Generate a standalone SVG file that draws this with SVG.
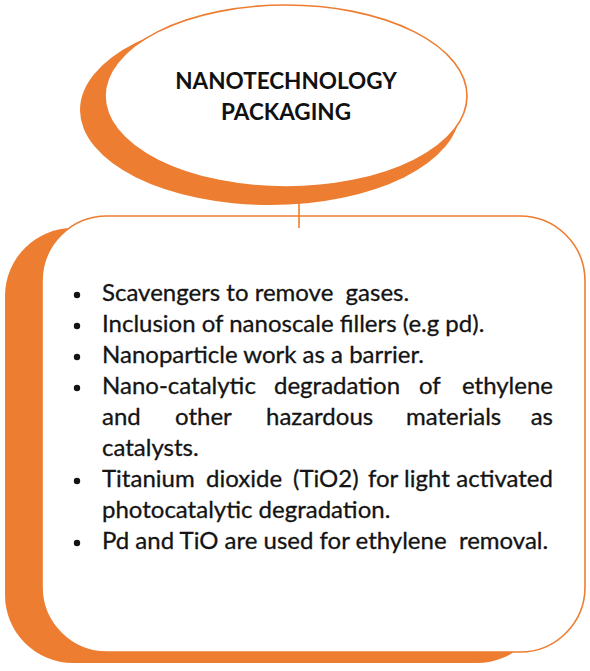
<svg xmlns="http://www.w3.org/2000/svg" width="590" height="671" viewBox="0 0 590 671">
<style>
.shadow{fill:#ED7D31;}
.face{fill:#FFFFFF;stroke:#ED7D31;stroke-width:1.6;}
.title{font-family:Lato,"Liberation Sans",sans-serif;font-weight:bold;font-size:22.5px;fill:#111111;text-anchor:middle;}
.body{font-family:Lato,"Liberation Sans",sans-serif;font-size:24px;fill:#141414;stroke:#141414;stroke-width:0.3;}
.dot{fill:#141414;}
.conn{stroke:#ED7D31;stroke-width:1.6;fill:none;}
</style>
<rect width="590" height="671" fill="#FFFFFF"/>
<g id="box-node">
<rect class="shadow" x="5" y="228" width="540" height="435" rx="68" ry="68"/>
<rect class="face" x="42" y="216" width="543" height="436" rx="65" ry="65"/>
<circle class="dot" cx="77" cy="295" r="3.2"/>
<circle class="dot" cx="77" cy="326" r="3.2"/>
<circle class="dot" cx="77" cy="357" r="3.2"/>
<circle class="dot" cx="77" cy="388" r="3.2"/>
<circle class="dot" cx="77" cy="481" r="3.2"/>
<circle class="dot" cx="77" cy="543" r="3.2"/>
<text class="body" x="102" y="301" xml:space="preserve">Scavengers to remove  gases.</text>
<text class="body" x="102" y="332">Inclusion of nanoscale fillers (e.g pd).</text>
<text class="body" x="102" y="363">Nanoparticle work as a barrier.</text>
<text class="body" y="394"><tspan x="102">Nano-catalytic</tspan><tspan x="274">degradation</tspan><tspan x="419">of</tspan><tspan x="553" text-anchor="end">ethylene</tspan></text>
<text class="body" y="425"><tspan x="102">and</tspan><tspan x="175">other</tspan><tspan x="266">hazardous</tspan><tspan x="406">materials</tspan><tspan x="553" text-anchor="end">as</tspan></text>
<text class="body" x="102" y="456">catalysts.</text>
<text class="body" y="487"><tspan x="102">Titanium</tspan><tspan x="206">dioxide</tspan><tspan x="293">(TiO2)</tspan><tspan x="368">for</tspan><tspan x="404">light</tspan><tspan x="553" text-anchor="end">activated</tspan></text>
<text class="body" x="102" y="518">photocatalytic degradation.</text>
<text class="body" x="102" y="549" xml:space="preserve">Pd and TiO are used for ethylene  removal.</text>
</g>
<g id="title-node">
<ellipse class="shadow" cx="270" cy="110" rx="190" ry="95"/>
<ellipse class="face" cx="286" cy="96" rx="181" ry="91"/>
<text class="title" x="286" y="89">NANOTECHNOLOGY</text>
<text class="title" x="286" y="120">PACKAGING</text>
</g>
<g id="connectors">
<line class="conn" x1="299" y1="187" x2="299" y2="228"/>
</g>
</svg>
